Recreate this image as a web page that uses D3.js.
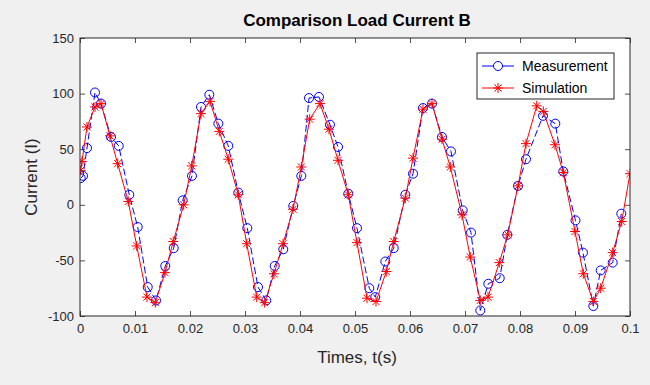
<!DOCTYPE html>
<html>
<head>
<meta charset="utf-8">
<script src="https://cdn.jsdelivr.net/npm/d3@7"></script>
<style>
  html, body { margin: 0; padding: 0; background: #f0f0f0; }
  svg { display: block; font-family: "Liberation Sans", Arial, Helvetica, sans-serif; }
</style>
</head>
<body>
<svg id="chart" width="650" height="385"></svg>
<script>
// ---- data ----
const simTime = [0.00013,0.00036,0.00127,0.00273,0.00382,0.00545,0.00685,0.00878,0.01031,0.01218,
  0.01369,0.01545,0.01696,0.01885,0.02031,0.02200,0.02364,0.02533,0.02696,0.02878,
  0.03031,0.03213,0.03358,0.03527,0.03691,0.03873,0.04024,0.04176,0.04364,0.04527,
  0.04691,0.04878,0.05036,0.05218,0.05382,0.05569,0.05704,0.05915,0.06055,0.06236,
  0.06400,0.06582,0.06733,0.06945,0.07096,0.07278,0.07418,0.07624,0.07776,0.07964,
  0.08109,0.08304,0.08424,0.08636,0.08787,0.09000,0.09151,0.09333,0.09467,0.09685,
  0.09849,0.10000];
const simValue = [31,39,70,88,91,62,37,3,-37,-83,
  -88,-61,-33,0,35,82,93,66,41,9,
  -35,-83,-88,-62,-35,-4,34,77,91,68,
  40,9,-34,-84,-87,-60,-33,6,42,86,
  91,59,34,-9,-47,-86,-83,-52,-27,17,
  55,89,84,54,29,-24,-62,-87,-75,-43,
  -15,28];

const measTime = [0.00013,0.00055,0.00127,0.00273,0.00382,0.00564,0.00704,0.00896,0.01049,0.01231,
  0.01382,0.01551,0.01704,0.01867,0.02036,0.02200,0.02351,0.02515,0.02696,0.02878,
  0.03042,0.03236,0.03387,0.03540,0.03696,0.03878,0.04024,0.04164,0.04345,0.04545,
  0.04691,0.04878,0.05036,0.05260,0.05369,0.05551,0.05704,0.05915,0.06055,0.06236,
  0.06400,0.06582,0.06745,0.06958,0.07109,0.07278,0.07424,0.07631,0.07769,0.07964,
  0.08109,0.08418,0.08642,0.08787,0.09009,0.09145,0.09333,0.09467,0.09685,0.09842];
const measValue = [24,26,51,101,91,61,53,9,-20,-74,
  -86,-55,-39,4,26,88,99,73,53,11,
  -21,-74,-86,-55,-40,-1,26,96,97,72,
  52,10,-21,-75,-83,-51,-39,9,28,87,
  91,61,48,-5,-25,-95,-71,-66,-27,17,
  41,80,73,30,-14,-43,-91,-59,-52,-8];

const xTicks = [0,0.01,0.02,0.03,0.04,0.05,0.06,0.07,0.08,0.09,0.1];
const xTickLabels = ["0","0.01","0.02","0.03","0.04","0.05","0.06","0.07","0.08","0.09","0.1"];
const yTicks = [-100,-50,0,50,100,150];
const yTickLabels = ["-100","-50","0","50","100","150"];

const titleText = "Comparison Load Current B";
const xLabelText = "Times, t(s)";
const yLabelText = "Current (I)";
const seriesNames = ["Measurement","Simulation"];

// ---- layout ----
const L = 80, R = 630, T = 38, B = 316;
const axisColor = "#262626";
const svg = d3.select("#chart");

const x = d3.scaleLinear().domain([0, 0.1]).range([L, R]);
const y = d3.scaleLinear().domain([-100, 150]).range([B, T]);

svg.append("rect").attr("x", L).attr("y", T).attr("width", R - L).attr("height", B - T)
  .attr("fill", "#ffffff");

svg.append("defs").append("clipPath").attr("id", "plotclip")
  .append("rect").attr("x", L).attr("y", T).attr("width", R - L).attr("height", B - T);

const plot = svg.append("g").attr("clip-path", "url(#plotclip)");

const meas = measTime.map((t, i) => ({ t, v: measValue[i] }));
const sim = simTime.map((t, i) => ({ t, v: simValue[i] }));

const line = d3.line().x(d => x(d.t)).y(d => y(d.v));

// measurement: blue dashed with circles
plot.append("path").datum(meas).attr("d", line)
  .attr("fill", "none").attr("stroke", "#0000ff").attr("stroke-width", 1)
  .attr("stroke-dasharray", "7,3");
plot.selectAll("circle.meas").data(meas).enter().append("circle")
  .attr("class", "meas").attr("cx", d => x(d.t)).attr("cy", d => y(d.v)).attr("r", 4.5)
  .attr("fill", "none").attr("stroke", "#0000ff").attr("stroke-width", 1);

// simulation: red solid with asterisks
function starPath(cx, cy, s) {
  const d = s * 0.7071;
  return `M${cx - s},${cy}L${cx + s},${cy}M${cx},${cy - s}L${cx},${cy + s}` +
         `M${cx - d},${cy - d}L${cx + d},${cy + d}M${cx - d},${cy + d}L${cx + d},${cy - d}`;
}
plot.append("path").datum(sim).attr("d", line)
  .attr("fill", "none").attr("stroke", "#ff0000").attr("stroke-width", 1);
plot.selectAll("path.sim").data(sim).enter().append("path")
  .attr("class", "sim").attr("d", d => starPath(x(d.t), y(d.v), 5))
  .attr("fill", "none").attr("stroke", "#ff0000").attr("stroke-width", 1);

// ---- axes ----
function styleAxis(g) {
  g.selectAll("path.domain").remove();
  g.selectAll(".tick line").attr("stroke", axisColor).attr("stroke-width", 0.8);
  g.selectAll(".tick text").attr("fill", axisColor).style("font-size", "13px")
    .style("font-family", '"Liberation Sans", Arial, sans-serif');
}
const xAxis = d3.axisBottom(x).tickValues(xTicks).tickFormat((d, i) => xTickLabels[i])
  .tickSizeInner(-5).tickSizeOuter(0).tickPadding(8);
svg.append("g").attr("transform", `translate(0,${B})`).call(xAxis).call(styleAxis);
const xAxisTop = d3.axisTop(x).tickValues(xTicks).tickFormat("").tickSizeInner(-5).tickSizeOuter(0);
svg.append("g").attr("transform", `translate(0,${T})`).call(xAxisTop).call(styleAxis);

const yAxis = d3.axisLeft(y).tickValues(yTicks).tickFormat((d, i) => yTickLabels[i])
  .tickSizeInner(-5).tickSizeOuter(0).tickPadding(6);
svg.append("g").attr("transform", `translate(${L},0)`).call(yAxis).call(styleAxis);
const yAxisRight = d3.axisRight(y).tickValues(yTicks).tickFormat("").tickSizeInner(-5).tickSizeOuter(0);
svg.append("g").attr("transform", `translate(${R},0)`).call(yAxisRight).call(styleAxis);

svg.append("rect").attr("x", L).attr("y", T).attr("width", R - L).attr("height", B - T)
  .attr("fill", "none").attr("stroke", axisColor).attr("stroke-width", 1);

// ---- titles ----
svg.append("text").attr("x", 357).attr("y", 26).attr("text-anchor", "middle")
  .style("font-size", "17px").style("font-weight", "bold").attr("fill", "#000")
  .text(titleText);
svg.append("text").attr("x", 357).attr("y", 363).attr("text-anchor", "middle")
  .style("font-size", "17px").attr("fill", axisColor).text(xLabelText);
svg.append("text").attr("transform", `translate(37,${(T + B) / 2}) rotate(-90)`)
  .attr("text-anchor", "middle").style("font-size", "17px").attr("fill", axisColor)
  .text(yLabelText);

// ---- legend ----
const lg = svg.append("g");
lg.append("rect").attr("x", 477).attr("y", 53).attr("width", 137).attr("height", 46)
  .attr("fill", "#ffffff").attr("stroke", axisColor).attr("stroke-width", 1);
const legendRows = [66, 88];
// measurement entry
lg.append("line").attr("x1", 482).attr("x2", 514).attr("y1", legendRows[0]).attr("y2", legendRows[0])
  .attr("stroke", "#0000ff").attr("stroke-width", 1);
lg.append("circle").attr("cx", 498).attr("cy", legendRows[0]).attr("r", 4.5)
  .attr("fill", "#ffffff").attr("stroke", "#0000ff");
lg.append("text").attr("x", 522).attr("y", legendRows[0]).attr("dy", "0.35em")
  .style("font-size", "14px").attr("fill", "#000").text(seriesNames[0]);
// simulation entry
lg.append("line").attr("x1", 482).attr("x2", 514).attr("y1", legendRows[1]).attr("y2", legendRows[1])
  .attr("stroke", "#ff0000").attr("stroke-width", 1);
lg.append("path").attr("d", starPath(498, legendRows[1], 5))
  .attr("fill", "none").attr("stroke", "#ff0000");
lg.append("text").attr("x", 522).attr("y", legendRows[1]).attr("dy", "0.35em")
  .style("font-size", "14px").attr("fill", "#000").text(seriesNames[1]);
</script>
</body>
</html>
